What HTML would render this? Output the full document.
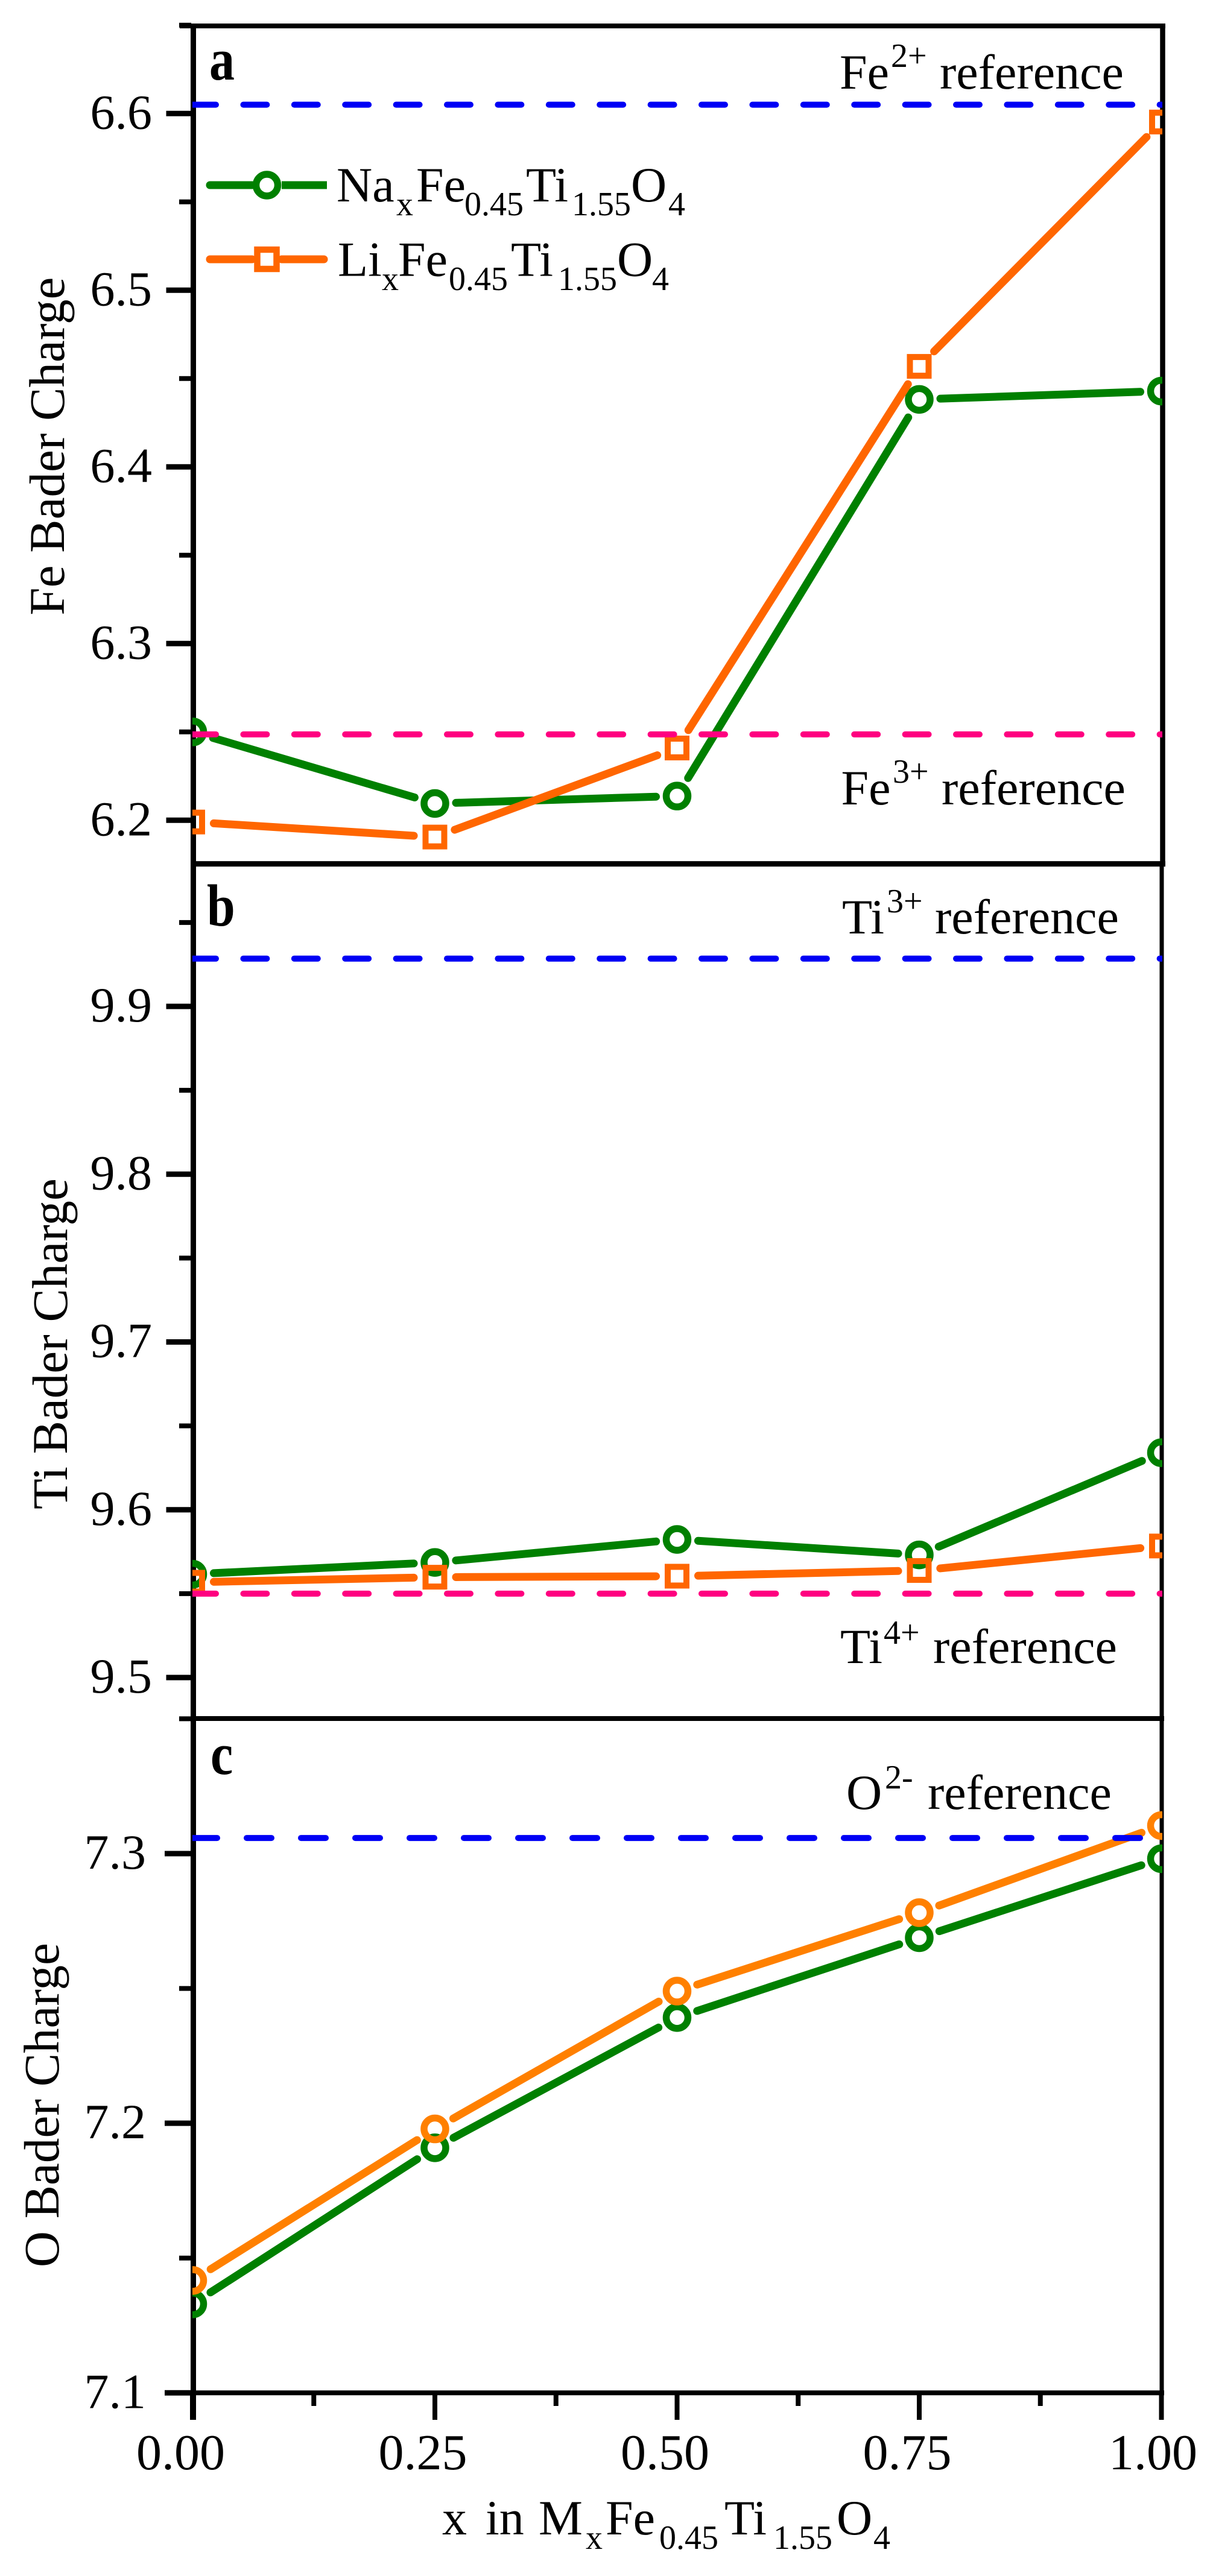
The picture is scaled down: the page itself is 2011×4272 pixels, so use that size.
<!DOCTYPE html>
<html lang="en">
<head>
<meta charset="utf-8">
<title>Bader charge of Fe, Ti and O versus x in MxFe0.45Ti1.55O4</title>
<style>
html,body{margin:0;padding:0;background:#fff;}
svg{display:block;}
text{font-family:"Liberation Serif","Noto Serif CJK SC",serif;fill:#000;}
.main{font-size:82px;}
.sm{font-size:56px;}
.tick{font-size:82px;}
.xt{font-size:84px;}
.tag{font-size:84px;font-weight:bold;}
.ttl{font-size:83px;}
</style>
</head>
<body>
<svg id="chart" xmlns="http://www.w3.org/2000/svg" width="2011" height="4272" viewBox="0 0 2011 4272">
  <rect x="0" y="0" width="2011" height="4272" fill="#ffffff"/>
  <defs>
    <clipPath id="clip-a-full"><rect x="319" y="47" width="1608" height="1386"/></clipPath>
    <clipPath id="clip-b-full"><rect x="319" y="1437" width="1608" height="1413"/></clipPath>
    <clipPath id="clip-c-full"><rect x="319" y="2854" width="1608" height="1114"/></clipPath>
  </defs>

  <g id="frame"></g>
  <g id="panel-a" clip-path="url(#clip-a-full)"></g>
  <g id="panel-b" clip-path="url(#clip-b-full)"></g>
  <g id="panel-c" clip-path="url(#clip-c-full)"></g>
  <g id="tick-labels"></g>

  <text class="tag" transform="translate(347,132) scale(1,1.17)">a</text>
  <text class="tag" transform="translate(343,1535) scale(1,1.17)">b</text>
  <text class="tag" transform="translate(349,2942) scale(1,1.17)">c</text>

  <text class="ttl" transform="translate(106,1020.5) rotate(-90)">Fe Bader Charge</text>
  <text class="ttl" transform="translate(111,2503) rotate(-90)">Ti Bader Charge</text>
  <text class="ttl" transform="translate(97,3760) rotate(-90)">O Bader Charge</text>

  <text><tspan class="main" x="733" y="4203">x</tspan><tspan class="main" x="805" y="4203">in</tspan><tspan class="main" x="893" y="4203">M</tspan><tspan class="sm" x="971" y="4227">x</tspan><tspan class="main" x="1004" y="4203">Fe</tspan><tspan class="sm" x="1093" y="4227">0.45</tspan><tspan class="main" x="1201" y="4203">Ti</tspan><tspan class="sm" x="1282" y="4227">1.55</tspan><tspan class="main" x="1387" y="4203">O</tspan><tspan class="sm" x="1448" y="4227">4</tspan></text>

  <text><tspan class="main" x="1392" y="147">Fe</tspan><tspan class="sm" x="1477" y="111">2+</tspan><tspan class="main" x="1558" y="147">reference</tspan></text>
  <text><tspan class="main" x="1394.5" y="1334">Fe</tspan><tspan class="sm" x="1480" y="1298">3+</tspan><tspan class="main" x="1561" y="1334">reference</tspan></text>
  <text><tspan class="main" x="1396" y="1548">Ti</tspan><tspan class="sm" x="1470" y="1513">3+</tspan><tspan class="main" x="1550" y="1548">reference</tspan></text>
  <text><tspan class="main" x="1393" y="2758">Ti</tspan><tspan class="sm" x="1465" y="2726">4+</tspan><tspan class="main" x="1547" y="2758">reference</tspan></text>
  <text><tspan class="main" x="1403" y="3000">O</tspan><tspan class="sm" x="1467" y="2966">2-</tspan><tspan class="main" x="1538" y="3000">reference</tspan></text>

  <g>
    <g>
      <line x1="348" y1="307" x2="418" y2="307" stroke="#008000" stroke-width="13" stroke-linecap="round"/>
      <line x1="467" y1="307" x2="542" y2="307" stroke="#008000" stroke-width="13"/>
      <circle cx="442.5" cy="307" r="18" fill="none" stroke="#008000" stroke-width="11.5"/>
      <text><tspan class="main" x="558" y="334">Na</tspan><tspan class="sm" x="657" y="357">x</tspan><tspan class="main" x="690" y="334">Fe</tspan><tspan class="sm" x="770" y="357">0.45</tspan><tspan class="main" x="872" y="334">Ti</tspan><tspan class="sm" x="948" y="357">1.55</tspan><tspan class="main" x="1046" y="334">O</tspan><tspan class="sm" x="1108" y="357">4</tspan></text>
    </g>
    <g>
      <line x1="348" y1="430" x2="418" y2="430" stroke="#ff6600" stroke-width="13" stroke-linecap="round"/>
      <line x1="467" y1="430" x2="537" y2="430" stroke="#ff6600" stroke-width="13" stroke-linecap="round"/>
      <rect x="426.5" y="414" width="32" height="32" fill="none" stroke="#ff6600" stroke-width="10.5"/>
      <text><tspan class="main" x="560" y="457.5">Li</tspan><tspan class="sm" x="633" y="481">x</tspan><tspan class="main" x="660" y="457.5">Fe</tspan><tspan class="sm" x="744" y="481">0.45</tspan><tspan class="main" x="847" y="457.5">Ti</tspan><tspan class="sm" x="925" y="481">1.55</tspan><tspan class="main" x="1023" y="457.5">O</tspan><tspan class="sm" x="1081" y="481">4</tspan></text>
    </g>
  </g>
</svg>

<script>
// Data
const xValues = [0, 0.25, 0.5, 0.75, 1];
const xMajorTicks = [0, 0.25, 0.5, 0.75, 1];
const xMinorTicks = [0.125, 0.375, 0.625, 0.875];
const xTickLabels = ['0.00', '0.25', '0.50', '0.75', '1.00'];

const feNa = [6.250, 6.2095, 6.2137, 6.4382, 6.4429];
const feLi = [6.199, 6.1905, 6.2409, 6.4569, 6.5952];
const feReferences = [6.605, 6.2486];
const feMajorTicks = [6.6, 6.5, 6.4, 6.3, 6.2];
const feMinorTicks = [6.65, 6.55, 6.45, 6.35, 6.25];
const feTickLabels = ['6.6', '6.5', '6.4', '6.3', '6.2'];

const tiNa = [9.5616, 9.5686, 9.5823, 9.5731, 9.634];
const tiLi = [9.5568, 9.5598, 9.5604, 9.5638, 9.5784];
const tiReferences = [9.9285, 9.55];
const tiMajorTicks = [9.9, 9.8, 9.7, 9.6, 9.5];
const tiMinorTicks = [9.95, 9.85, 9.75, 9.65, 9.55];
const tiTickLabels = ['9.9', '9.8', '9.7', '9.6', '9.5'];

const oNa = [7.133, 7.1909, 7.2392, 7.2688, 7.2981];
const oLi = [7.1417, 7.1979, 7.249, 7.2781, 7.3104];
const oReferences = [7.3058];
const oMajorTicks = [7.3, 7.2, 7.1];
const oMinorTicks = [7.35, 7.25, 7.15];
const oTickLabels = ['7.3', '7.2', '7.1'];

const NS = 'http://www.w3.org/2000/svg';
const GREEN = '#008000';
const ORANGE = '#ff6600';
const ORANGE_O = '#ff8000';
const BLUE = '#0000f5';
const PINK = '#ff0080';

// Axis functions
function xScale(v) { return 319.5 + 1606 * v; }
function yFe(v) { return 1360.3 - (v - 6.2) * 2930; }
function yTi(v) { return 1669 - (v - 9.9) * 2782.5; }
function yO(v) { return 3968.3 - (v - 7.1) * 4471.5; }

function make(tag, parent, attrs) {
  const node = document.createElementNS(NS, tag);
  for (const k in attrs) node.setAttribute(k, attrs[k]);
  parent.appendChild(node);
  return node;
}

const frame = document.getElementById('frame');
const labels = document.getElementById('tick-labels');

function drawSpine(name, x1, y1, x2, y2, w) {
  const el = make('line', frame, { x1: x1, y1: y1, x2: x2, y2: y2, stroke: '#000', 'stroke-width': w });
  
  
}

drawSpine('left-spine', 320.5, 39, 320.5, 4013, 9);
drawSpine('top-spine', 298, 43, 1932, 43, 8);
drawSpine('right-spine-a', 1927.5, 39, 1927.5, 1437, 8.5);
drawSpine('right-spine-bc', 1926, 1437, 1926, 4013, 7);
drawSpine('panel-a-bottom-spine', 316, 1432.6, 1932, 1432.6, 9);
drawSpine('panel-b-bottom-spine', 316, 2850, 1930, 2850, 8);
drawSpine('x-axis-line', 273, 3968.3, 1930, 3968.3, 8);

function drawYTicks(scale, majors, minors, tickLabels, leftMajor, labelRight, panelName) {
  majors.forEach(function (v, i) {
    const y = scale(v);
    const tick = make('line', frame, { x1: leftMajor, y1: y, x2: 317, y2: y, stroke: '#000', 'stroke-width': 9 });
    
    
    const t = make('text', labels, { x: labelRight, y: y + 25, 'text-anchor': 'end', class: 'tick' });
    t.textContent = tickLabels[i];
    
    
  });
  minors.forEach(function (v) {
    const y = scale(v);
    const tick = make('line', frame, { x1: 297, y1: y, x2: 317, y2: y, stroke: '#000', 'stroke-width': 8 });
    
    
  });
}

drawYTicks(yFe, feMajorTicks, feMinorTicks, feTickLabels, 275.5, 252, 'fe');
drawYTicks(yTi, tiMajorTicks, tiMinorTicks, tiTickLabels, 275.5, 252, 'ti');
drawYTicks(yO, oMajorTicks, oMinorTicks, oTickLabels, 273, 242, 'o');

xMajorTicks.forEach(function (v, i) {
  const x = xScale(v);
  const tick = make('line', frame, { x1: x, y1: 3968, x2: x, y2: 4013, stroke: '#000', 'stroke-width': i === 0 ? 9 : 8 });
  
  
  const t = make('text', labels, { x: x - (i === 4 ? 14 : 20), y: 4095, 'text-anchor': 'middle', class: 'xt' });
  t.textContent = xTickLabels[i];
  
  
});
xMinorTicks.forEach(function (v) {
  const x = xScale(v);
  const tick = make('line', frame, { x1: x, y1: 3968, x2: x, y2: 3990, stroke: '#000', 'stroke-width': 8 });
  
  
});

function drawSeries(parent, scale, values, color, shape, seriesName) {
  const gap = 35;
  const g = make('g', parent, {});
  
  
  const pts = values.map(function (v, i) { return [xScale(xValues[i]), scale(v)]; });
  for (let i = 0; i < pts.length - 1; i++) {
    const a = pts[i], b = pts[i + 1];
    const dx = b[0] - a[0], dy = b[1] - a[1];
    const len = Math.sqrt(dx * dx + dy * dy);
    const ux = dx / len, uy = dy / len;
    const seg = make('line', g, {
      x1: a[0] + ux * gap, y1: a[1] + uy * gap,
      x2: b[0] - ux * gap, y2: b[1] - uy * gap,
      stroke: color, 'stroke-width': 13, 'stroke-linecap': 'round'
    });
    
    
  }
  pts.forEach(function (p) {
    let m;
    if (shape === 'circle') {
      m = make('circle', g, { cx: p[0], cy: p[1], r: 18, fill: 'none', stroke: color, 'stroke-width': 11.5 });
    } else {
      m = make('rect', g, { x: p[0] - 15.5, y: p[1] - 15.5, width: 31, height: 31, fill: 'none', stroke: color, 'stroke-width': 10 });
    }
    
    
  });
}

function drawReference(parent, scale, value, color, dash, refName) {
  const y = scale(value);
  const line = make('line', parent, {
    x1: 319, y1: y, x2: 1927, y2: y, stroke: color,
    'stroke-width': 10, 'stroke-linecap': 'round', 'stroke-dasharray': dash
  });
  
  
}

const panelA = document.getElementById('panel-a');
drawSeries(panelA, yFe, feNa, GREEN, 'circle', 'fe-na');
drawSeries(panelA, yFe, feLi, ORANGE, 'square', 'fe-li');
drawReference(panelA, yFe, feReferences[0], BLUE, '39 45.4', 'fe2-reference-line');
drawReference(panelA, yFe, feReferences[1], PINK, '39 45.4', 'fe3-reference-line');

const panelB = document.getElementById('panel-b');
drawSeries(panelB, yTi, tiNa, GREEN, 'circle', 'ti-na');
drawSeries(panelB, yTi, tiLi, ORANGE, 'square', 'ti-li');
drawReference(panelB, yTi, tiReferences[0], BLUE, '39 45.4', 'ti3-reference-line');
drawReference(panelB, yTi, tiReferences[1], PINK, '39 45.4', 'ti4-reference-line');

const panelC = document.getElementById('panel-c');
drawSeries(panelC, yO, oNa, GREEN, 'circle', 'o-na');
drawSeries(panelC, yO, oLi, ORANGE_O, 'circle', 'o-li');
drawReference(panelC, yO, oReferences[0], BLUE, '41 49', 'o2-reference-line');
</script>
</body>
</html>
